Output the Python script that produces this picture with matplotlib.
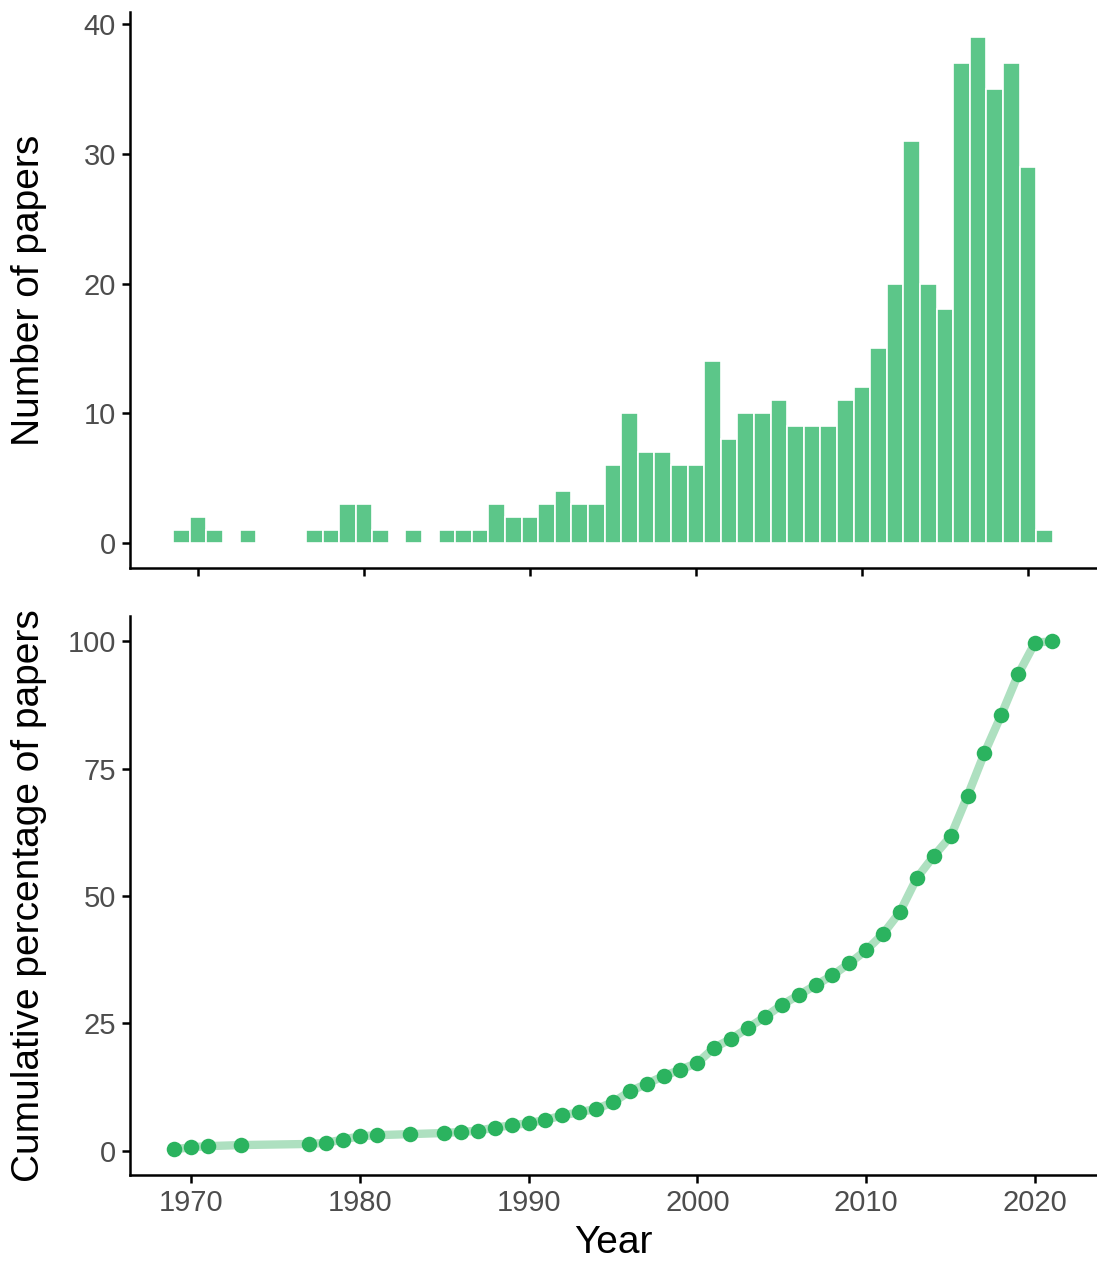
import numpy as np
import matplotlib.pyplot as plt

plt.rcParams['font.family'] = ['Liberation Sans', 'DejaVu Sans']

# publication years and counts
years = list(range(1969, 2022))
counts = [1, 2, 1, 0, 1, 0, 0, 0, 1, 1, 3, 3, 1, 0, 1, 0, 1, 1, 1, 3,
          2, 2, 3, 4, 3, 3, 6, 10, 7, 7, 6, 6, 14, 8, 10, 10, 11, 9, 9, 9,
          11, 12, 15, 20, 31, 20, 18, 37, 39, 35, 37, 29, 1]
year_ticks = [1970, 1980, 1990, 2000, 2010, 2020]
count_ticks = [0, 10, 20, 30, 40]
pct_ticks = [0, 25, 50, 75, 100]

years = np.array(years)
counts = np.array(counts)

# cumulative percentage, only for years with papers
has = counts > 0
cum_pct = np.cumsum(counts)[has] / counts.sum() * 100
cum_years = years[has]

bar_col = "#5cc689"
pt_col = "#2bb35f"
line_col = "#aee0c0"
tick_col = "#4d4d4d"

fig = plt.figure(figsize=(10.97, 12.69), dpi=100)
ax1 = fig.add_axes([0.1185, 0.5524, 0.8805, 0.4381])
ax2 = fig.add_axes([0.1185, 0.0741, 0.8805, 0.4405])

# bar panel
ax1.bar(years, counts, width=1.0, color=bar_col, edgecolor="white", linewidth=1.2)
ax1.set_xlim(1965.9, 2024.1)
ax1.set_ylim(-1.95, 40.95)
ax1.set_yticks(count_ticks)
ax1.set_xticks(year_ticks)
ax1.set_xticklabels([])
ax1.set_ylabel("Number of papers", fontsize=28)

# cumulative panel
ax2.plot(cum_years, cum_pct, color=line_col, lw=6, solid_capstyle="round", zorder=2)
ax2.scatter(cum_years, cum_pct, s=125, color=pt_col, zorder=3, linewidths=0)
ax2.set_xlim(1966.4, 2023.6)
ax2.set_ylim(-4.8, 105)
ax2.set_yticks(pct_ticks)
ax2.set_xticks(year_ticks)
ax2.set_ylabel("Cumulative percentage of papers", fontsize=28)
ax2.set_xlabel("Year", fontsize=28, labelpad=6)

for ax in (ax1, ax2):
    for s in ("top", "right"):
        ax.spines[s].set_visible(False)
    for s in ("left", "bottom"):
        ax.spines[s].set_linewidth(1.8)
    ax.tick_params(width=1.8, length=6, labelsize=21, labelcolor=tick_col, pad=4)
    # aligned y titles, like patchwork
    ax.yaxis.set_label_coords(-0.086, 0.5)

fig.savefig("out.png", dpi=100)
